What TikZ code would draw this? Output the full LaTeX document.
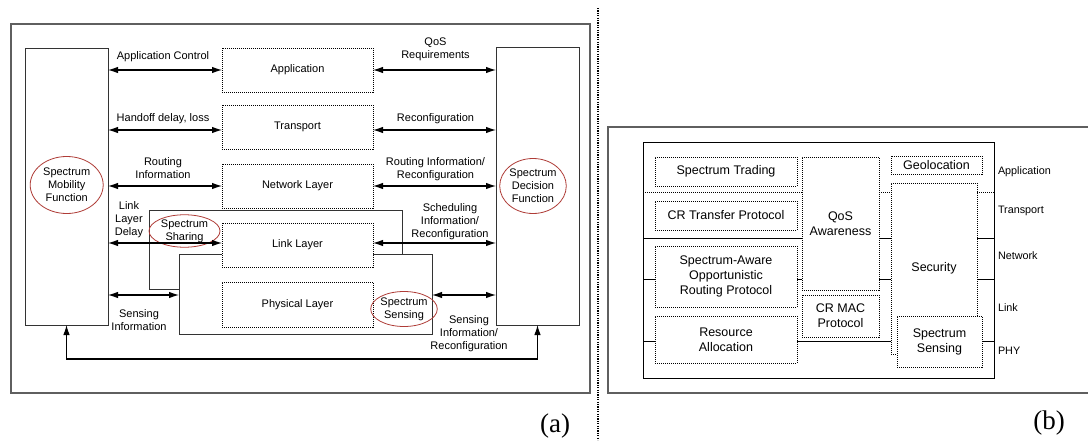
\documentclass[tikz,border=0pt]{standalone}
\usepackage{fontspec}
\setmainfont{Liberation Sans}
\newfontfamily\tagfont{Liberation Serif}
\usetikzlibrary{arrows.meta,calc,shapes.geometric}
\definecolor{ellred}{RGB}{175,60,55}
\definecolor{framegray}{RGB}{95,95,95}

\begin{document}
\begin{tikzpicture}[x=1pt,y=-1pt,
  every node/.style={inner sep=0pt, outer sep=0pt},
  txta/.style={font=\fontsize{11}{13}\selectfont, align=center},
  txtb/.style={font=\fontsize{12.5}{15}\selectfont, align=center},
  txtr/.style={font=\fontsize{10.8}{13}\selectfont, anchor=west},
  frame/.style={draw=framegray, line width=1.5pt},
  dotbox/.style={draw, dash pattern=on 1pt off 1pt, line width=0.9pt, fill=white, txta},
  dotboxb/.style={draw, dash pattern=on 1pt off 1pt, line width=0.9pt, fill=white, txtb},
  solidbox/.style={draw=black!80, line width=1pt},
  tallbox/.style={draw=black!80, line width=1pt, fill=white},
  func/.style={draw=ellred, line width=0.8pt, ellipse, txta},
  bothway/.style={{Latex[length=10pt,width=6.5pt]}-{Latex[length=10pt,width=6.5pt]}, line width=1.1pt},
  layerline/.style={line width=1pt},
  layerdots/.style={dash pattern=on 1pt off 1pt, line width=0.9pt}
]
\useasboundingbox (0,0) rectangle (1088,442);

% ---------------- (a) cognitive radio functions across the protocol stack
\draw[frame] (11,24) rectangle (590,393);

\node[tallbox, minimum width=83pt, minimum height=277pt] (mob) at (66.5,186.5) {};
\node[tallbox, minimum width=83pt, minimum height=278pt] (dec) at (537.5,186) {};

% shared link/physical blocks
\node[solidbox, minimum width=253pt, minimum height=79pt] (share) at (275.5,249.5) {};
\node[solidbox, fill=white, minimum width=253pt, minimum height=80pt] (sens) at (305.5,294) {};

% protocol layers
\node[dotbox, minimum width=151pt, minimum height=44pt] (app) at (297.5,70) {Application};
\node[dotbox, minimum width=151pt, minimum height=44pt] (trans) at (297.5,127) {Transport};
\node[dotbox, minimum width=151pt, minimum height=44pt] (net) at (297.5,186) {Network Layer};
\node[dotbox, minimum width=151pt, minimum height=44pt] (link) at (297.5,245) {Link Layer};
\node[dotbox, minimum width=151pt, minimum height=45pt] (phy) at (297.5,304.5) {Physical Layer};

% functions
\node[func, minimum width=73pt, minimum height=57pt] (mobfn) at (66.7,185) {Spectrum\\Mobility\\Function};
\node[func, minimum width=56pt, minimum height=55pt] (decfn) at (533,186) {Spectrum\\Decision\\Function};
\node[func, minimum width=71pt, minimum height=32pt] (sharefn) at (184.5,231) {Spectrum\\Sharing};
\node[func, minimum width=58pt, minimum height=35pt] (sensfn) at (404,309) {Spectrum\\Sensing};

% interfaces to spectrum mobility
\draw[bothway] (mob.east |- app.west) -- (app.west);
\draw[bothway] (mob.east |- 0,130) -- (trans.west |- 0,130);
\draw[bothway] (mob.east |- net.west) -- (net.west);
\draw[bothway] (mob.east |- 0,243) -- (link.west |- 0,243);
\draw[bothway] (mob.east |- 0,295) -- (sens.west |- 0,295);

% interfaces to spectrum decision
\draw[bothway] (app.east) -- (dec.west |- app.east);
\draw[bothway] (trans.east |- 0,130) -- (dec.west |- 0,130);
\draw[bothway] (net.east) -- (dec.west |- net.east);
\draw[bothway] (link.east |- 0,243) -- (dec.west |- 0,243);
\draw[bothway] (sens.east |- 0,295) -- (dec.west |- 0,295);

% mobility <-> decision
\draw[bothway] (mob.south) -- ++(0,34) -| (dec.south);

% interface labels
\node[txta] (l1) at (163,57) {Application Control};
\node[txta] (l2) at (163,119) {Handoff delay, loss};
\node[txta] (l3) at (163,168.5) {Routing\\Information};
\node[txta] (l4) at (129,220) {Link\\Layer\\Delay};
\node[txta] (l5) at (139,320.5) {Sensing\\Information};
\node[txta] (r1) at (435.5,49.5) {QoS\\Requirements};
\node[txta] (r2) at (435.5,119) {Reconfiguration};
\node[txta] (r3) at (435.5,169.5) {Routing Information/\\Reconfiguration};
\node[txta] (r4) at (450,222) {Scheduling\\Information/\\Reconfiguration};
\node[txta] (r5) at (469,334) {Sensing\\Information/\\Reconfiguration};

\node[font=\tagfont\fontsize{27}{27}\selectfont] (taga) at (555,426) {(a)};

% separator
\draw[dash pattern=on 1.2pt off 1.2pt, line width=1.4pt] (598,8) -- (598,440);

% ---------------- (b) cross-layer functions
\draw[framegray, line width=1.5pt] (1088,127) -- (608,127) -- (608,393) -- (1088,393);
\node[draw, line width=1pt, minimum width=351pt, minimum height=236pt] (inner) at (818.5,260) {};

% layer boundaries
\draw[layerdots] (643,192) -- (994,192);
\draw[layerline] (643,238) -- (994,238);
\draw[layerline] (643,279) -- (994,279);
\draw[layerline] (643,341) -- (994,341);

\node[dotboxb, minimum width=142pt, minimum height=29pt] (trade) at (726,171.5) {Spectrum Trading};
\node[dotboxb, minimum width=142pt, minimum height=29pt] (crtp) at (726,215.5) {CR Transfer Protocol};
\node[dotboxb, minimum width=142pt, minimum height=61pt] (saorp) at (726,276.5) {Spectrum-Aware\\Opportunistic\\Routing Protocol};
\node[dotboxb, minimum width=142pt, minimum height=47pt] (ra) at (726,339.5) {Resource\\Allocation};
\node[dotboxb, minimum width=77pt, minimum height=133pt] (qos) at (840.5,223.5) {QoS\\Awareness};
\node[dotboxb, minimum width=77pt, minimum height=42pt] (mac) at (840.5,316) {CR MAC\\Protocol};
\node[dotboxb, minimum width=91pt, minimum height=18pt] (geo) at (936.5,165) {Geolocation};
\node[dotboxb, minimum width=86pt, minimum height=171pt] (sec) at (934,268.5) {Security};
\node[dotboxb, minimum width=85pt, minimum height=51pt] (pss) at (939.5,341.5) {Spectrum\\Sensing};

% layer names
\node[txtr] (n1) at (998,171.5) {Application};
\node[txtr] (n2) at (998,211) {Transport};
\node[txtr] (n3) at (998,256) {Network};
\node[txtr] (n4) at (998,307.5) {Link};
\node[txtr] (n5) at (998,350.5) {PHY};

\node[font=\tagfont\fontsize{27}{27}\selectfont] (tagb) at (1049,423) {(b)};
\end{tikzpicture}
\end{document}
